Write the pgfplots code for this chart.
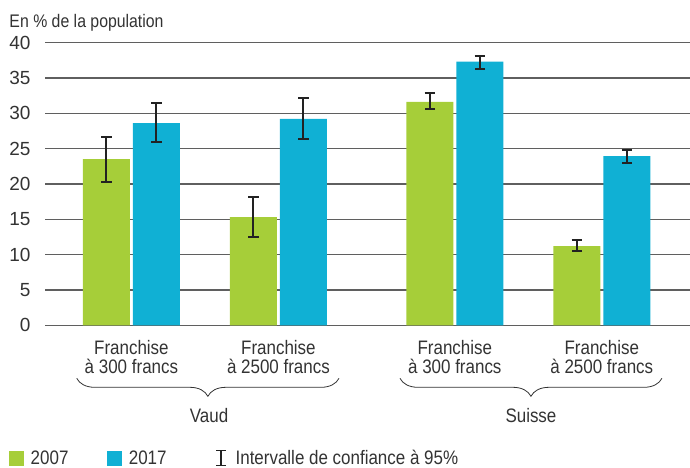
\documentclass[border=0pt]{standalone}
\usepackage{fontspec}
\setmainfont{Liberation Sans}
\newfontfamily\cond{Liberation Sans}[FakeStretch=0.87]
\usepackage{pgfplots}
\usepackage{pgfplotstable}
\pgfplotsset{compat=1.18}
\usetikzlibrary{decorations.pathreplacing}
\definecolor{cgreen}{RGB}{166,206,57}
\definecolor{cblue}{RGB}{16,176,212}
\definecolor{ctext}{RGB}{51,51,51}
\definecolor{cgrid}{RGB}{95,95,95}
\definecolor{cerr}{RGB}{34,34,34}

\pgfplotstableread{
x y ep em
0 23.5 3.1 3.2
1 15.3 2.9 2.8
2.2 31.6 1.2 1.0
3.2 11.2 0.9 0.7
}\greendata
\pgfplotstableread{
x y ep em
0 28.6 2.8 2.7
1 29.2 3.0 2.8
2.2 37.3 0.8 1.1
3.2 23.95 0.85 0.95
}\bluedata

\begin{document}
\begin{tikzpicture}
\useasboundingbox (0,0) rectangle (690bp,468bp);
\begin{axis}[
  at={(45bp,142.7bp)}, anchor=south west,
  width=645bp, height=282.7bp, scale only axis,
  xmin=-0.588, xmax=3.8, ymin=0, ymax=40,
  ytick={0,5,...,40},
  xtick={0,1,2.2,3.2},
  xticklabels={{Franchise\\à 300 francs},{Franchise\\à 2500 francs},{Franchise\\à 300 francs},{Franchise\\à 2500 francs}},
  axis line style={draw=none},
  major tick length=0pt,
  ymajorgrids, grid style={cgrid, line width=1.2bp},
  ybar, bar width=0.32,
  clip=false,
  /pgf/number format/assume math mode=true,
  yticklabel style={font=\fontsize{19bp}{19bp}\selectfont, text=ctext, anchor=east, inner sep=0pt, xshift=-14.3bp},
  xticklabel style={font=\cond\fontsize{19.5bp}{19bp}\selectfont, text=ctext, align=center, anchor=north, inner sep=0pt, yshift=-14.8bp},
  error bars/y dir=both, error bars/y explicit,
  error bars/error mark=|,
  error bars/error bar style={draw=cerr, line width=2bp},
  error bars/error mark options={draw=cerr, line width=2bp, mark size=5.3bp},
  legend columns=3,
  legend style={at={(-0.0553,-0.4700)}, anchor=west, draw=none, fill=none, inner sep=0pt, outer sep=0pt,
    nodes={inner sep=0pt, font=\cond\fontsize{19.5bp}{19bp}\selectfont, text=ctext},
    /tikz/every odd column/.append style={column sep=6.4bp},
    /tikz/every even column/.append style={column sep=39bp}},
]
\addplot[ybar, bar shift=-0.17, fill=cgreen, draw=none,
  legend image code/.code={\fill[cgreen] (0bp,-7.5bp) rectangle (15bp,7.5bp);}]
  table[x=x, y=y, y error plus=ep, y error minus=em] {\greendata};
\addlegendentry{2007}
\addplot[ybar, bar shift=0.17, fill=cblue, draw=none,
  legend image code/.code={\fill[cblue] (0bp,-7.5bp) rectangle (15bp,7.5bp);}]
  table[x=x, y=y, y error plus=ep, y error minus=em] {\bluedata};
\addlegendentry{2017}
\addlegendimage{legend image code/.code={
  \path[draw=none] (0bp,0bp) (23.6bp,0bp);
  \draw[cerr, line width=1.6bp] (15.5bp,-7.5bp) -- (15.5bp,7.5bp)
     (10.5bp,-7.5bp) -- (20.5bp,-7.5bp) (10.5bp,7.5bp) -- (20.5bp,7.5bp);}}
\addlegendentry{Intervalle de confiance à 95\%}

\draw[decorate, decoration={brace, mirror, amplitude=18bp}, ctext, line width=0.8bp]
  (axis cs:-0.372,-7.5) -- (axis cs:1.412,-7.5);
\draw[decorate, decoration={brace, mirror, amplitude=18bp}, ctext, line width=0.8bp]
  (axis cs:1.827,-7.5) -- (axis cs:3.609,-7.5);
\node[anchor=base, inner sep=0pt, font=\cond\fontsize{19.5bp}{19bp}\selectfont, text=ctext] at (axis cs:0.528,-13.72) {Vaud};
\node[anchor=base, inner sep=0pt, font=\cond\fontsize{19.5bp}{19bp}\selectfont, text=ctext] at (axis cs:2.718,-13.72) {Suisse};
\end{axis}
\node[anchor=base west, inner sep=0pt, font=\cond\fontsize{18.2bp}{18bp}\selectfont, text=ctext] at (9.3bp,440.7bp) {En \% de la population};
\end{tikzpicture}
\end{document}
